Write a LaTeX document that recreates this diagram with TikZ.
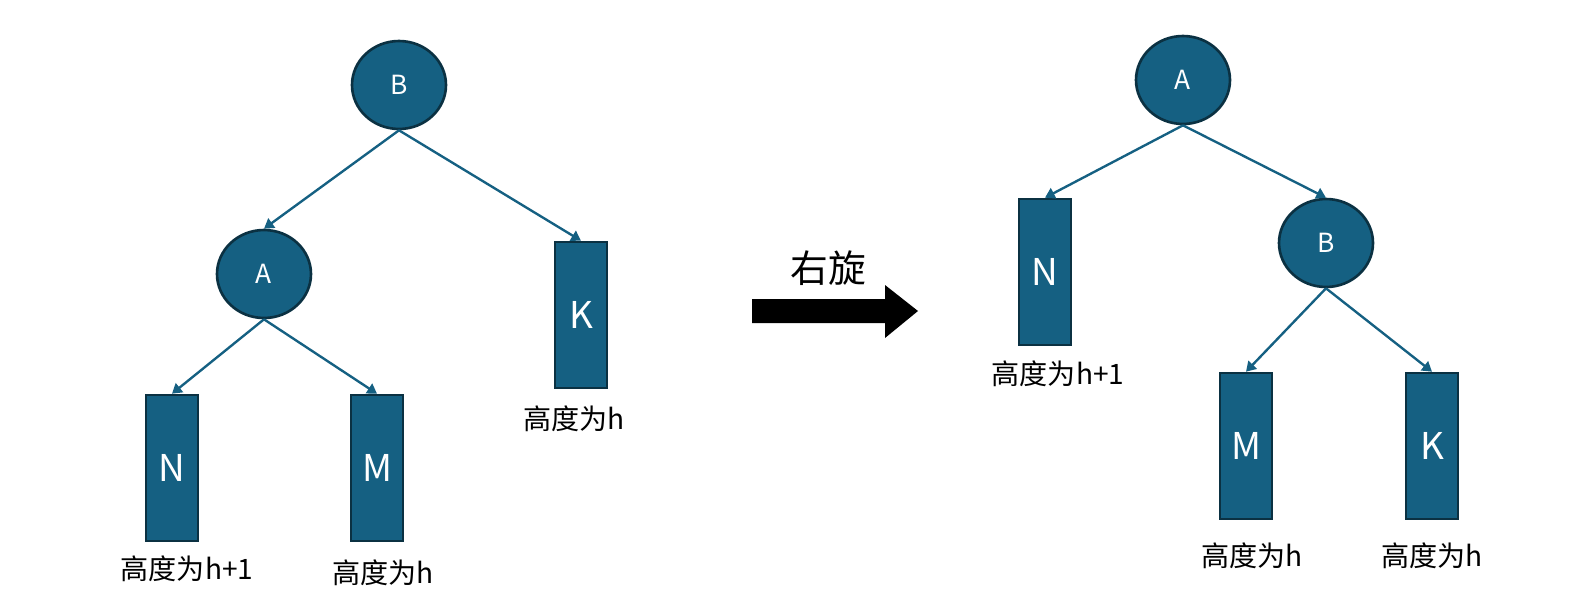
\documentclass[tikz,border=0pt]{standalone}
\usepackage{fontspec}
\setmainfont{Noto Sans CJK SC}
\usetikzlibrary{arrows.meta,shapes.geometric}
\definecolor{nodeblue}{HTML}{156082}
\definecolor{nodeedge}{HTML}{0B3142}
\begin{document}
\begin{tikzpicture}[x=0.02cm, y=-0.02cm, >={Triangle[length=5.5pt,width=6.5pt]},
	tnode/.style={ellipse, draw=nodeedge, line width=1.5pt, fill=nodeblue, text=white, minimum width=1.88cm, minimum height=1.76cm, inner sep=0pt, font=\fontsize{15}{18}\selectfont},
	hbox/.style={rectangle, draw=nodeedge, line width=1.5pt, fill=nodeblue, text=white, minimum width=1.04cm, minimum height=2.92cm, inner sep=0pt, font=\fontsize{21}{25}\selectfont},
	hlabel/.style={font=\fontsize{16}{19}\selectfont},
	link/.style={->, draw=nodeblue, line width=1.35pt}]
	\useasboundingbox (0,0) rectangle (1573,602);
	
	% 1. 旋转前
	\node[tnode] (B1) at (399,85) {B};
	\node[tnode] (A1) at (264,274) {A};
	\node[hbox] (N1) at (172,468) {N};
	\node[hbox] (M1) at (377,468) {M};
	\node[hbox] (K1) at (581,315) {K};
	\node[hlabel] (n1) at (187,569) {高度为h+1};
	\node[hlabel] (m1) at (383,573) {高度为h};
	\node[hlabel] (k1) at (574,419) {高度为h};
	\draw[link] (B1.south) -- (A1.north);
	\draw[link] (B1.south) -- (K1.north);
	\draw[link] (A1.south) -- (N1.north);
	\draw[link] (A1.south) -- (M1.north);
	
	% 2. 右旋箭头
	\node[font=\fontsize{21.5}{25}\selectfont] (rot) at (828,268) {右旋};
	\fill[black] (752,299) -- (885,299) -- (885,285) -- (918,311) -- (885,338) -- (885,323) -- (752,323) -- cycle;
	
	% 3. 旋转后
	\node[tnode] (A2) at (1183,80) {A};
	\node[tnode] (B2) at (1326,243) {B};
	\node[hbox] (N2) at (1045,272) {N};
	\node[hbox] (M2) at (1246,446) {M};
	\node[hbox] (K2) at (1432,446) {K};
	\node[hlabel] (n2) at (1058,374) {高度为h+1};
	\node[hlabel] (m2) at (1252,556) {高度为h};
	\node[hlabel] (k2) at (1432,556) {高度为h};
	\draw[link] (A2.south) -- (N2.north);
	\draw[link] (A2.south) -- (B2.north);
	\draw[link] (B2.south) -- (M2.north);
	\draw[link] (B2.south) -- (K2.north);
\end{tikzpicture}
\end{document}
